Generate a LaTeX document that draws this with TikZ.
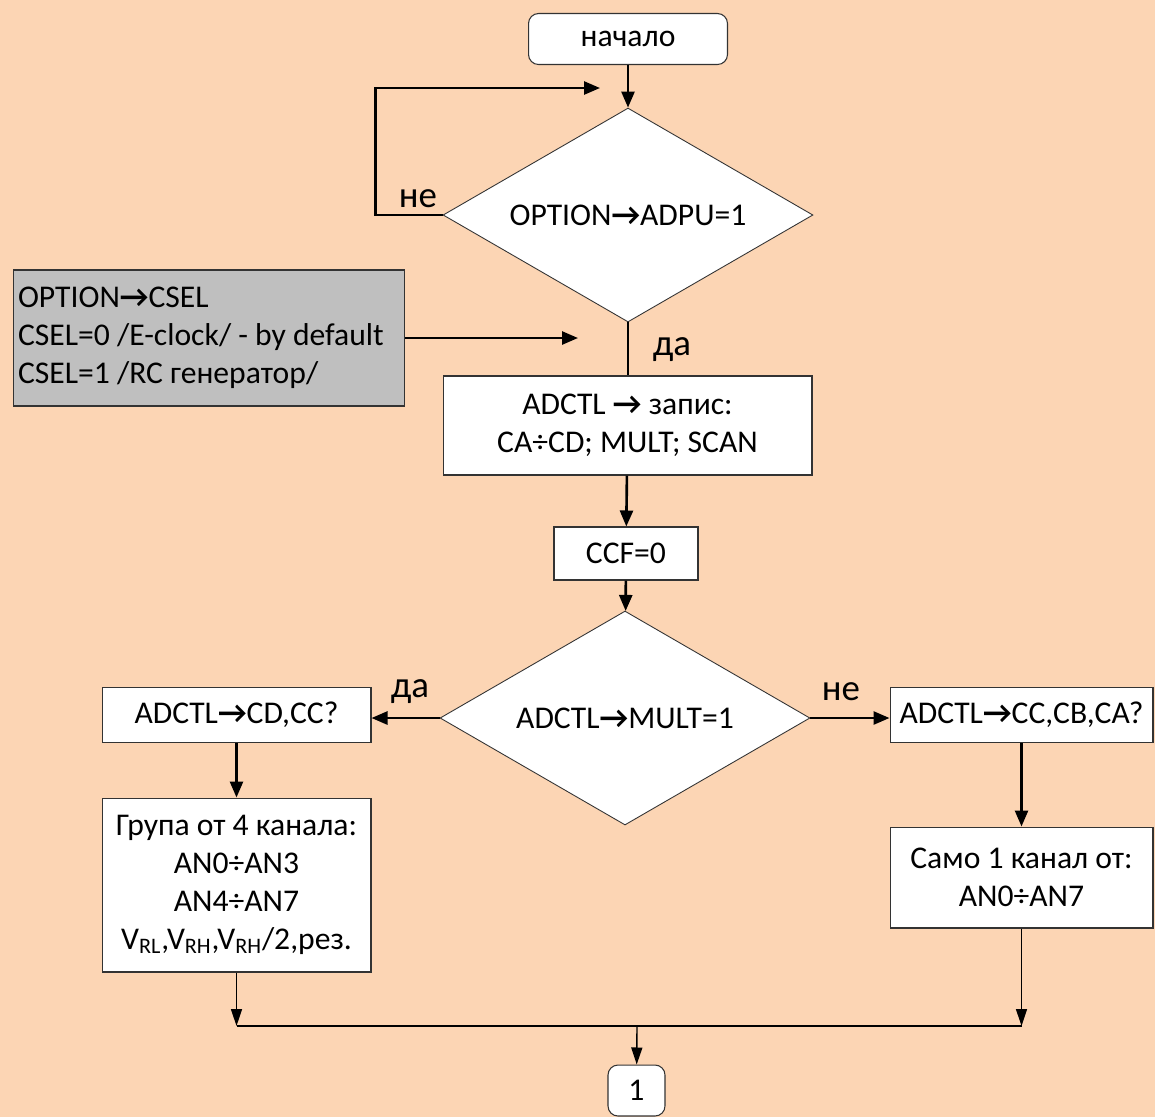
\documentclass[tikz,border=0pt]{standalone}
\usepackage{fontspec}
\setmainfont{Carlito}
\usetikzlibrary{shapes.geometric,arrows.meta}
\definecolor{bgtan}{HTML}{FCD5B4}
\definecolor{notegray}{HTML}{BFBFBF}
\newcommand{\rarr}{\textbf{→}}
\begin{document}
\begin{tikzpicture}[x=0.02cm, y=-0.02cm, >={Triangle[length=0.32cm,width=0.26cm]},
  every node/.style={font=\fontsize{18}{21.5}\selectfont},
  box/.style={draw=black!80, fill=white, line width=0.6pt, inner sep=0pt, align=center},
  term/.style={box, rounded corners=0.2cm},
  cond/.style={draw=black!80, fill=white, line width=0.5pt, diamond, aspect=1.73, inner sep=0pt,
    minimum width=7.4cm, minimum height=4.28cm},
  flow/.style={->, line width=1.5pt},
  merge/.style={->, line width=0.8pt, >={Triangle[length=0.34cm,width=0.22cm]}},
  lbl/.style={inner sep=0pt, font=\fontsize{21}{25}\selectfont}]
\fill[bgtan] (0,0) rectangle (1155,1117);
\useasboundingbox (0,0) rectangle (1155,1117);

% blocks
\node[term, minimum width=3.98cm, minimum height=1.02cm] (start) at (628,39) {начало};
\node[cond] (adpu) at (628,215) {OPTION\rarr ADPU=1};
\node[box, fill=notegray, minimum width=7.84cm, minimum height=2.72cm, text width=7.64cm, align=flush left] (csel) at (209,338)
  {OPTION\rarr CSEL\\CSEL=0 /E-clock/ - by default\\CSEL=1 /RC генератор/};
\node[box, minimum width=7.38cm, minimum height=1.98cm] (wr) at (627.5,425.5) {ADCTL \rarr{} запис:\\CA÷CD; MULT; SCAN};
\node[box, minimum width=2.88cm, minimum height=1.06cm] (ccf) at (626,553.5) {CCF=0};
\node[cond] (mult) at (625,718) {ADCTL\rarr MULT=1};
\node[box, minimum width=5.38cm, minimum height=1.1cm] (grpq) at (236.5,715) {ADCTL\rarr CD,CC?};
\node[box, minimum width=5.38cm, minimum height=3.48cm] (grp) at (236.5,885)
  {Група от 4 канала:\\AN0÷AN3\\AN4÷AN7\\V\textsubscript{RL},V\textsubscript{RH},V\textsubscript{RH}/2,рез.};
\node[box, minimum width=5.26cm, minimum height=1.1cm] (oneq) at (1021.5,715) {ADCTL\rarr CC,CB,CA?};
\node[box, minimum width=5.26cm, minimum height=2.02cm] (one) at (1021.5,877.5) {Само 1 канал от:\\AN0÷AN7};
\node[term, minimum width=1.14cm, minimum height=1.02cm] (con) at (636.5,1090.5) {1};

% labels
\node[lbl] (no1) at (418,199) {не};
\node[lbl] (yes1) at (672,350) {да};
\node[lbl] (yes2) at (410,692) {да};
\node[lbl] (no2) at (841,692) {не};

\coordinate (back) at (600,88);
\coordinate (clk) at (578,338);
\coordinate (mid) at (637,1026);

% connectors
\draw[flow] (start) -- (adpu);
\draw[flow] (adpu.west) -- ++(-67,0) |- (back);
\draw[line width=1.5pt] (adpu.south) -- (adpu.south |- wr.north);
\draw[flow] (csel.east) -- (clk);
\draw[flow] (wr) -- (ccf);
\draw[flow] (ccf) -- (mult);
\draw[flow] (mult.west) -- (mult.west -| grpq.east);
\draw[flow] (mult.east) -- (mult.east -| oneq.west);
\draw[flow] (grpq) -- (grp);
\draw[flow] (oneq) -- (one);
\draw[merge] (grp.south) -- (grp.south |- mid);
\draw[merge] (one.south) -- (one.south |- mid);
\draw[line width=0.8pt] (grp.south |- mid) -- (one.south |- mid);
\draw[merge] (mid) -- (con);
\end{tikzpicture}
\end{document}
